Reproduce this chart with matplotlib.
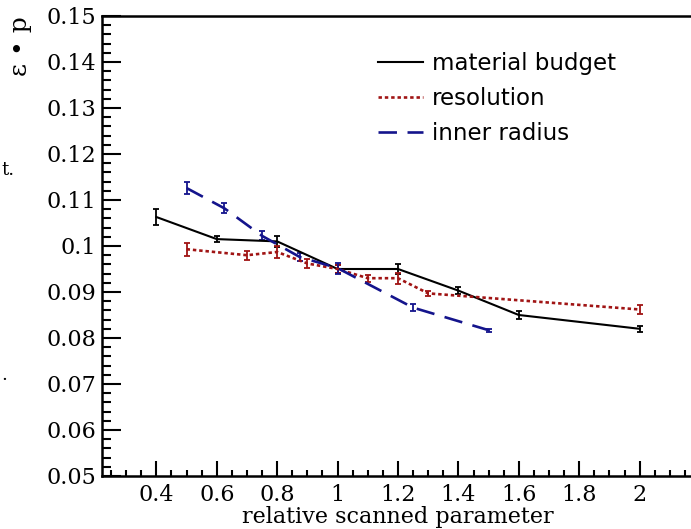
import numpy as np
import matplotlib.pyplot as plt
from matplotlib.ticker import MultipleLocator, FormatStrFormatter

# material budget scan
mb_x = [0.4, 0.6, 0.8, 1.0, 1.2, 1.4, 1.6, 2.0]
mb_y = [0.1063, 0.1015, 0.1010, 0.0950, 0.0950, 0.0903, 0.0850, 0.0820]
mb_err = [0.0018, 0.0006, 0.0012, 0.0008, 0.0010, 0.0008, 0.0008, 0.0007]

# resolution scan
res_x = [0.5, 0.7, 0.8, 0.9, 1.0, 1.1, 1.2, 1.3, 2.0]
res_y = [0.0993, 0.0980, 0.0987, 0.0962, 0.0950, 0.0930, 0.0930, 0.0897, 0.0862]
res_err = [0.0014, 0.0010, 0.0012, 0.0010, 0.0008, 0.0008, 0.0012, 0.0006, 0.0009]

# inner radius scan
ir_x = [0.5, 0.625, 0.75, 0.875, 1.0, 1.25, 1.5]
ir_y = [0.1126, 0.1082, 0.1022, 0.0976, 0.0952, 0.0866, 0.0817]
ir_err = [0.0013, 0.0011, 0.0010, 0.0009, 0.0012, 0.0008, 0.0003]

labels = ["material budget", "resolution", "inner radius"]

serif = "DejaVu Serif"

fig = plt.figure(figsize=(6.91, 5.29), dpi=100)
ax = fig.add_axes([102 / 691, 53 / 529, 592 / 691, 460 / 529])

eb1 = ax.errorbar(mb_x, mb_y, yerr=mb_err, color="black", lw=1.5, capsize=2.3,
                  elinewidth=1.3, capthick=1.3)
eb2 = ax.errorbar(res_x, res_y, yerr=res_err, color="#a01414", lw=1.9, capsize=2.3,
                  elinewidth=1.3, capthick=1.3, dashes=(1.3, 1.1))
eb3 = ax.errorbar(ir_x, ir_y, yerr=ir_err, color="#14148c", lw=1.9, capsize=2.3,
                  elinewidth=1.3, capthick=1.3, dashes=(7, 4))

ax.set_xlim(0.22, 2.18)
ax.set_ylim(0.05, 0.15)

ax.xaxis.set_major_locator(MultipleLocator(0.2))
ax.xaxis.set_minor_locator(MultipleLocator(0.05))
ax.yaxis.set_major_locator(MultipleLocator(0.01))
ax.yaxis.set_minor_locator(MultipleLocator(0.002))
ax.xaxis.set_major_formatter(FormatStrFormatter("%g"))
ax.yaxis.set_major_formatter(FormatStrFormatter("%g"))

ax.tick_params(axis="both", which="both", direction="in", top=False, right=False, width=1.5)
ax.tick_params(axis="x", which="major", length=11, pad=5.5)
ax.tick_params(axis="x", which="minor", length=4.5)
ax.tick_params(axis="y", which="major", length=13.5, pad=4)
ax.tick_params(axis="y", which="minor", length=6.5)
for lab in ax.get_xticklabels() + ax.get_yticklabels():
    lab.set_fontfamily(serif)
    lab.set_fontsize(16)
for s in ax.spines.values():
    s.set_linewidth(1.8)

ax.set_xlabel("relative scanned parameter", fontfamily=serif, fontsize=16, labelpad=0)

fig.text(21 / 691, 1 - 16 / 529, "ε • p", rotation=90, ha="center", va="top",
         fontfamily=serif, fontsize=18)

# fragments of neighbouring text cut by the crop
fig.text(0.002, 1 - 170 / 529, "t.", ha="left", va="center", fontfamily=serif, fontsize=13)
fig.text(0.002, 1 - 375 / 529, ".", ha="left", va="center", fontfamily=serif, fontsize=13)

handles = [eb1.lines[0], eb2.lines[0], eb3.lines[0]]
leg = ax.legend(handles, labels, loc="upper left",
                bbox_to_anchor=(378 / 691, 1 - 52 / 529),
                bbox_transform=fig.transFigure, frameon=False, fontsize=16.5,
                handlelength=1.95, handletextpad=0.4, labelspacing=0.53,
                borderpad=0, borderaxespad=0)

fig.savefig("out.png", dpi=100)
